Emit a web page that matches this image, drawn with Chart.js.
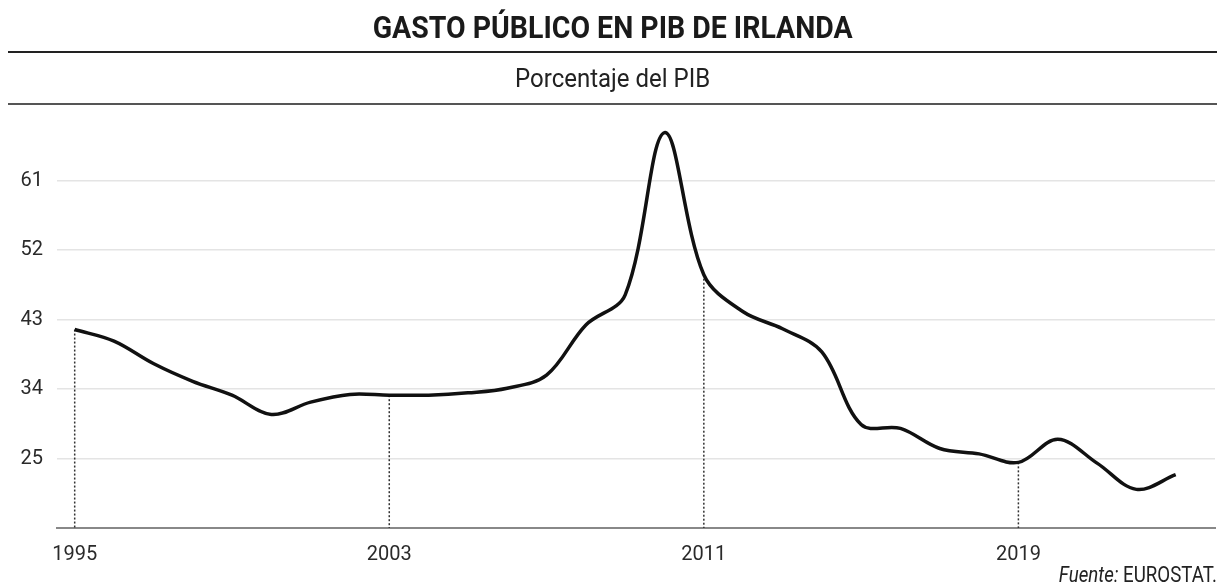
<!DOCTYPE html>
<html>
<head>
<meta charset="utf-8">
<script src="https://cdn.jsdelivr.net/npm/chart.js@4.4.1/dist/chart.umd.min.js"></script>
<style>
  html, body { margin: 0; padding: 0; background: #fff; }
  body { width: 1225px; height: 586px; position: relative; overflow: hidden; font-family: Roboto, "Liberation Sans", sans-serif; }
  #wrap { position: absolute; left: 0; top: 0; width: 1225px; height: 586px; }
  .title { position: absolute; left: 0; width: 1225px; top: 8px; text-align: center; }
  .title span { display: inline-block; font-weight: 700; font-size: 32px; color: #1a1a1a; transform: scaleX(0.89); }
  .sub { position: absolute; left: 0; width: 1225px; top: 64px; text-align: center; }
  .sub span { display: inline-block; font-size: 25px; color: #222; transform: scaleX(0.96); }
  .rule1 { position: absolute; left: 8px; width: 1209px; top: 51px; height: 2px; background: #222; }
  .rule2 { position: absolute; left: 8px; width: 1209px; top: 103px; height: 2px; background: #555; }
  .src { position: absolute; right: 8px; top: 562px; font-size: 22px; color: #222; transform: scaleX(0.85); transform-origin: right center; }
</style>
</head>
<body>
<div id="wrap"><canvas id="chart"></canvas></div>
<div class="title"><span>GASTO PÚBLICO EN PIB DE IRLANDA</span></div>
<div class="rule1"></div>
<div class="sub"><span>Porcentaje del PIB</span></div>
<div class="rule2"></div>
<div class="src"><i>Fuente:</i> EUROSTAT.</div>
<script>
// years and public spending (% of GDP)
const years = [1995, 1996, 1997, 1998, 1999, 2000, 2001, 2002, 2003, 2004,
               2005, 2006, 2007, 2008, 2009, 2010, 2011, 2012, 2013, 2014,
               2015, 2016, 2017, 2018, 2019, 2020, 2021, 2022, 2023];
const gasto = [41.7, 40.2, 37.3, 35.0, 33.2, 30.7, 32.3, 33.3, 33.2, 33.2,
               33.5, 34.1, 35.8, 42.3, 46.2, 67.2, 48.8, 44.0, 41.8, 38.8,
               29.4, 28.9, 26.3, 25.6, 24.5, 27.5, 24.4, 21.0, 22.9];
const xTicks = [1995, 2003, 2011, 2019];
const yTicks = [25, 34, 43, 52, 61];

// dotted drop lines from the curve down to the axis at the labelled years
const dropLines = {
    id: 'dropLines',
    beforeDatasetsDraw(chart) {
        const ctx = chart.ctx;
        const xs = chart.scales.x, ys = chart.scales.y;
        ctx.save();
        ctx.strokeStyle = '#333';
        ctx.lineWidth = 1.5;
        ctx.setLineDash([2, 2]);
        xTicks.forEach(yr => {
            const i = years.indexOf(yr);
            const px = xs.getPixelForValue(yr);
            ctx.beginPath();
            ctx.moveTo(px, ys.getPixelForValue(gasto[i]));
            ctx.lineTo(px, ys.bottom);
            ctx.stroke();
        });
        ctx.restore();
    }
};

const ctx = document.getElementById('chart').getContext('2d');
const chart = new Chart(ctx, {
    type: 'line',
    data: {
        datasets: [{
            data: years.map((y, i) => ({ x: y, y: gasto[i] })),
            borderColor: '#111',
            borderWidth: 3.5,
            pointRadius: 0,
            tension: 0.35,
            fill: false
        }]
    },
    options: {
        responsive: true,
        maintainAspectRatio: false,
        animation: false,
        layout: { padding: { top: 111, right: 10, bottom: 0, left: 0 } },
        plugins: { legend: { display: false }, tooltip: { enabled: false } },
        scales: {
            x: {
                type: 'linear',
                min: 1994.55,
                max: 2024,
                afterBuildTicks: axis => { axis.ticks = xTicks.map(v => ({ value: v })); },
                afterFit: axis => { axis.height = 58; },
                grid: { display: false },
                border: { color: '#888', width: 2 },
                ticks: {
                    padding: 7,
                    color: '#2a2a2a',
                    font: { family: 'Roboto', size: 20 },
                    callback: v => String(v),
                    maxRotation: 0
                }
            },
            y: {
                min: 16,
                max: 70,
                afterBuildTicks: axis => { axis.ticks = [16].concat(yTicks, [70]).map(v => ({ value: v })); },
                afterFit: axis => { axis.width = 57; },
                border: { display: false },
                grid: {
                    drawTicks: false,
                    lineWidth: 1.5,
                    color: c => yTicks.includes(c.tick.value) ? '#e4e4e4' : 'rgba(0,0,0,0)'
                },
                ticks: {
                    padding: 14,
                    color: '#2a2a2a',
                    font: { family: 'Roboto', size: 20 },
                    callback: v => yTicks.includes(v) ? String(v) : ''
                }
            }
        }
    },
    plugins: [dropLines]
});
</script>
</body>
</html>
